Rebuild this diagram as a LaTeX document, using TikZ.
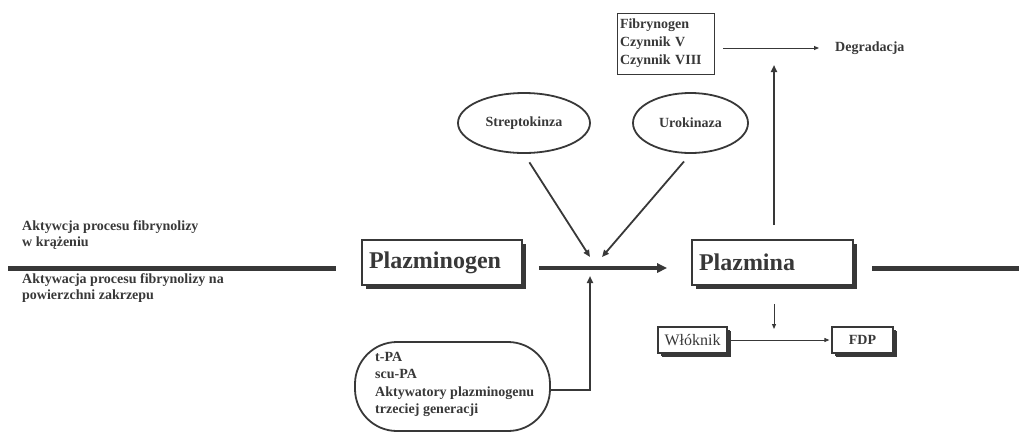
\documentclass[tikz,border=0pt]{standalone}
\usepackage{fontspec}
\setmainfont{Liberation Serif}
\usetikzlibrary{arrows.meta,shapes.geometric,shadows}
\definecolor{ink}{gray}{0.22}
\begin{document}
\begin{tikzpicture}[x=1pt,y=-1pt,
  lbl/.style={font=\fontsize{14}{16}\selectfont\bfseries, text=ink, align=left, inner sep=0pt},
  oval/.style={ellipse, draw=ink, line width=1.8pt, minimum height=60pt, inner sep=0pt,
    font=\fontsize{14}{16}\selectfont\bfseries, text=ink},
  shbox/.style={rectangle, draw=ink, fill=white, line width=1.6pt,
    drop shadow={shadow xshift=3.5pt, shadow yshift=-3.5pt, fill=ink, opacity=1}},
  bigbox/.style={shbox, minimum height=45pt, inner ysep=0pt, inner xsep=7pt, align=left,
    font=\fontsize{24}{28}\selectfont\bfseries, text=ink},
  smallbox/.style={shbox, line width=1.2pt, minimum height=26pt, inner sep=0pt, text=ink,
    drop shadow={shadow xshift=2.5pt, shadow yshift=-2.5pt, fill=ink, opacity=1}},
  thinarrow/.style={draw=ink, line width=0.9pt, -{Triangle[length=5pt,width=4pt]}},
  medarrow/.style={draw=ink, line width=1.8pt, -{Triangle[length=7pt,width=6pt]}},
  bigarrow/.style={draw=ink, line width=3.5pt, -{Triangle[length=10pt,width=9pt]}},
  bar/.style={draw=ink, line width=5pt},
]
\useasboundingbox (0,0) rectangle (1019,432);

% top box and degradation
\node[rectangle, draw=ink, line width=0.9pt, text width=91pt, inner xsep=3pt, inner ysep=0pt,
  minimum height=61pt, align=left, font=\fontsize{14}{18}\selectfont\bfseries, text=ink]
  (fib) at (665.5,43.5) {Fibrynogen\\Czynnik V\\Czynnik VIII};
\node[lbl, anchor=west] (deg) at (835,48) {Degradacja};
\draw[thinarrow, shorten <=9pt, shorten >=16pt] ([yshift=-4.5pt]fib.east) -- (deg.west);

% ellipses
\node[oval, minimum width=132pt] (strep) at (524,123) {Streptokinza};
\node[oval, minimum width=115pt] (uro) at (690.5,123) {Urokinaza};

% main boxes
\node[bigbox, text width=146pt] (plg) at (442,262.5) {Plazminogen};
\node[bigbox, text width=147pt] (plm) at (772.5,262.5) {Plazmina};

% junction coordinates
\coordinate (J) at (596,268);
\coordinate (js) at (590,257);
\coordinate (ju) at (602,257);
\coordinate (jb) at (590,276);

\draw[bigarrow, shorten <=16pt, shorten >=24pt] (plg.east |- J) -- (plm.west |- J);
\draw[medarrow, shorten <=10pt] (strep.south) -- (js);
\draw[medarrow, shorten <=10pt] (uro.south) -- (ju);

% thick side bars
\coordinate (l1) at (8,268);
\coordinate (l2) at (336,268);
\coordinate (r1) at (872,268);
\coordinate (r2) at (1019,268);
\draw[bar] (l1) -- (l2);
\draw[bar] (r1) -- (r2);

% left labels
\node[lbl, anchor=west] (circ) at (22,235.5) {Aktywcja procesu fibrynolizy\\w krążeniu};
\node[lbl, anchor=west] (surf) at (22,288) {Aktywacja procesu fibrynolizy na\\powierzchni zakrzepu};

% activators stadium
\node[rectangle, draw=ink, line width=1.8pt, rounded corners=42pt, minimum width=195pt,
  minimum height=89pt] (stad) at (452.5,386.5) {};
\node[font=\fontsize{14}{17.5}\selectfont\bfseries, text=ink, align=left, inner sep=0pt, anchor=north west]
  (tpa) at (375,352) {t-PA\\scu-PA\\Aktywatory plazminogenu\\trzeciej generacji};
\draw[medarrow] ([yshift=-3.5pt]stad.east) -| (jb);

% up arrow to degradation
\coordinate (up) at (774,65);
\draw[medarrow, shorten <=14pt] (plm.north -| up) -- (up);

% down arrow and fibrin
\coordinate (dn) at (774,329);
\draw[thinarrow, shorten <=18pt] (plm.south -| dn) -- (dn);
\node[smallbox, minimum width=69pt, font=\fontsize{16}{18}\selectfont] (wl) at (692.5,340) {Włóknik};
\node[smallbox, minimum width=61pt, font=\fontsize{14}{16}\selectfont\bfseries] (fdp) at (862.5,340) {FDP};
\draw[thinarrow, shorten >=2pt] (wl.east) -- (fdp.west);
\end{tikzpicture}
\end{document}
